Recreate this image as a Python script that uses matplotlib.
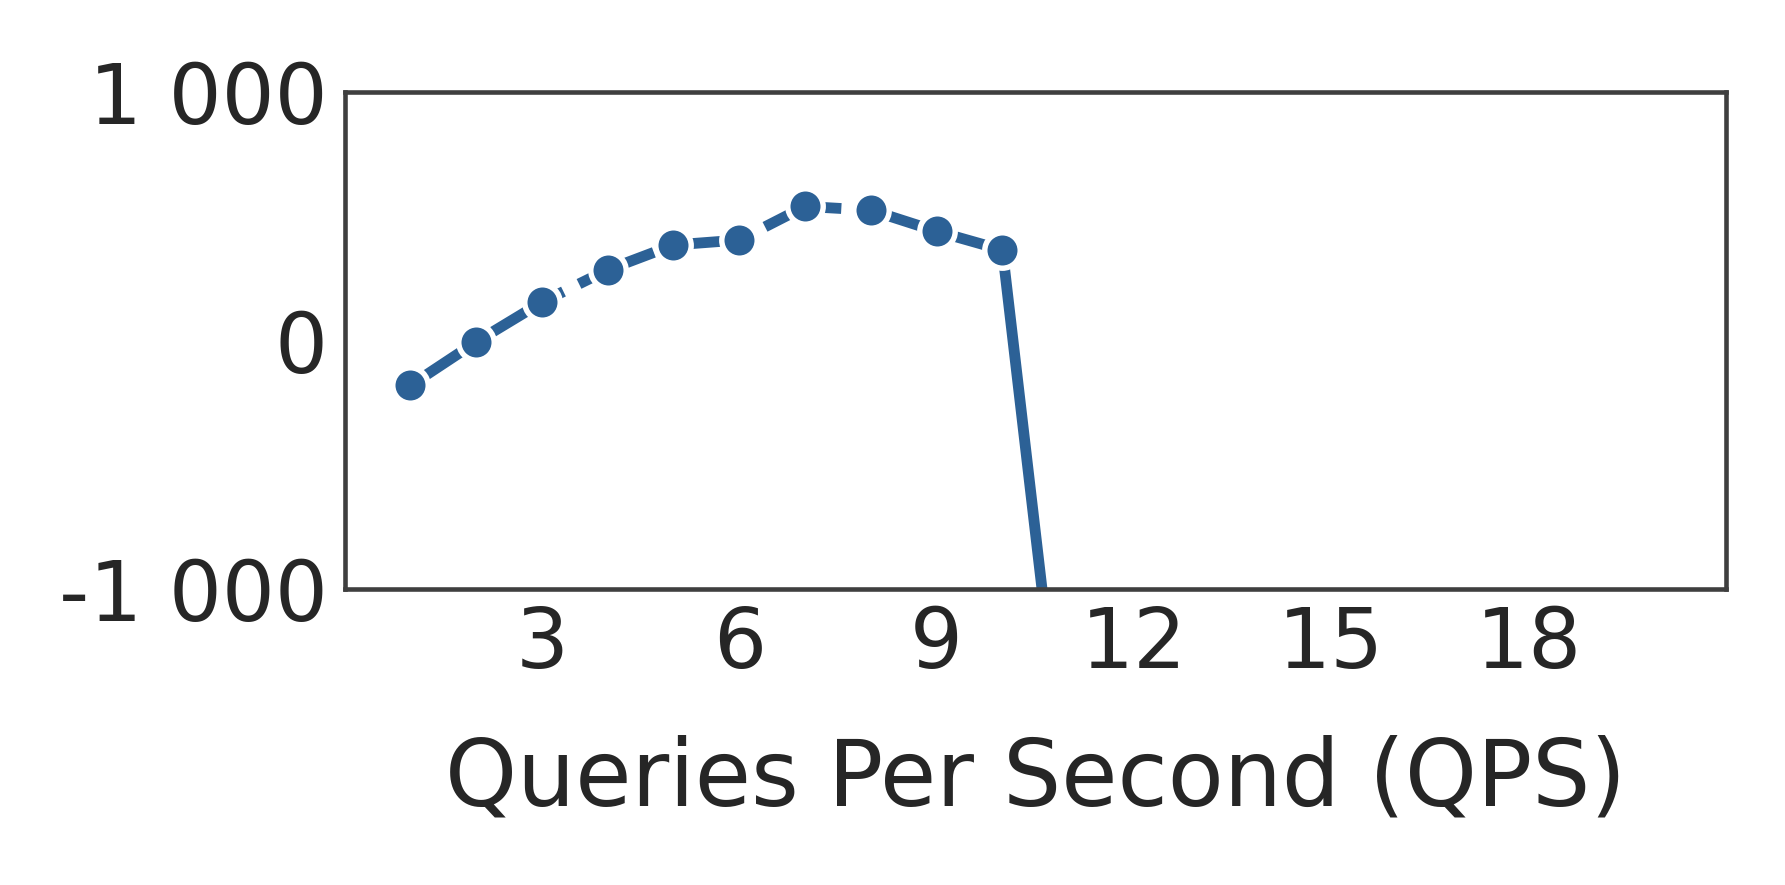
import matplotlib

matplotlib.use("Agg")
import matplotlib.pyplot as plt  # noqa: E402
from matplotlib.ticker import FuncFormatter  # noqa: E402

# data
qps = [1, 2, 3, 4, 5, 6, 7, 8, 9, 10]
latency = [-180, -5, 155, 285, 385, 405, 540, 525, 440, 365]
tail_qps = [10, 11]
tail_latency = [365, -1900]

x_ticks = [3, 6, 9, 12, 15, 18]
y_ticks = [-1000, 0, 1000]

color = "#2c6196"


def thousands(v, _pos):
    return f"{int(v):,}".replace(",", " ")


fig = plt.figure(figsize=(5.95, 2.95), dpi=300)
ax = fig.add_axes([0.193, 0.334, 0.774, 0.562])

ax.plot(tail_qps, tail_latency, color=color, linewidth=2.6, solid_capstyle="butt", zorder=2)
ax.plot(qps, latency, color=color, linewidth=2.6, dashes=(7.5, 1.6),
        marker="o", markersize=8.5, markeredgecolor="white", markeredgewidth=1.3, zorder=3)

ax.set_xlim(0, 21)
ax.set_ylim(-1000, 1000)
ax.set_xticks(x_ticks)
ax.set_yticks(y_ticks)
ax.yaxis.set_major_formatter(FuncFormatter(thousands))
ax.tick_params(length=0, labelsize=20, colors="#262626")
ax.tick_params(axis="y", pad=4)
ax.tick_params(axis="x", pad=3.5)
ax.set_xlabel("Queries Per Second (QPS)", fontsize=22, color="#262626", labelpad=12)

for s in ax.spines.values():
    s.set_color("#3f3f3f")
    s.set_linewidth(1.1)

fig.savefig("out.png", dpi=300, facecolor="white")
